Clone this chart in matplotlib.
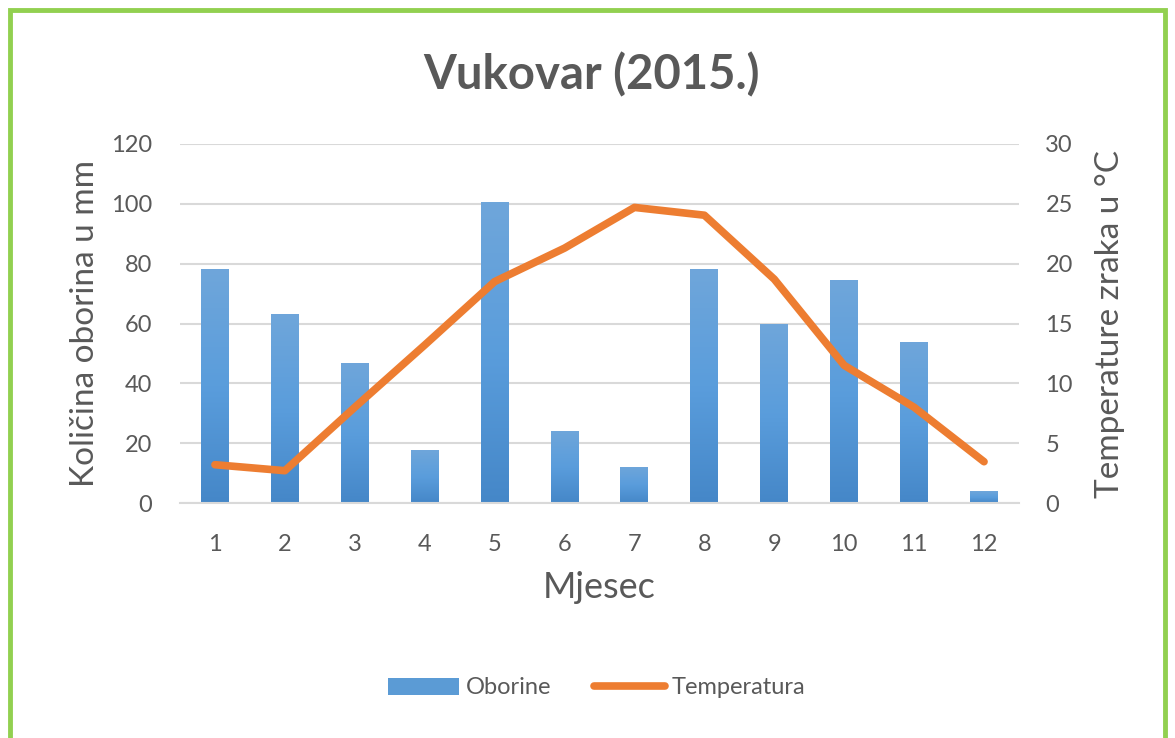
import numpy as np
import matplotlib.pyplot as plt
from matplotlib.patches import Rectangle, Patch
from matplotlib.lines import Line2D
from matplotlib.colors import LinearSegmentedColormap

# podaci očitani s grafa
mjeseci = [1, 2, 3, 4, 5, 6, 7, 8, 9, 10, 11, 12]
oborine = [78.2, 63.1, 46.8, 17.6, 100.5, 24.1, 12.1, 78.2, 59.8, 74.5, 53.9, 3.9]
temperatura = [3.2, 2.7, 8.0, 13.2, 18.5, 21.3, 24.7, 24.05, 18.7, 11.5, 8.0, 3.45]

plt.rcParams['font.family'] = ['Lato', 'DejaVu Sans']
siva = '#595959'
plava = '#5B9BD5'
narancasta = '#ED7D31'

fig = plt.figure(figsize=(11.75, 7.38), dpi=100)
fig.patch.set_facecolor('white')
ax = fig.add_axes([180 / 1175, 1 - 503 / 738, 839 / 1175, 359 / 738])
ax2 = ax.twinx()

x = np.array(mjeseci)
ax.set_xlim(0.5, 12.5)
ax.set_ylim(0, 120)
bars = ax.bar(x, oborine, width=0.4, color=plava, zorder=2)

# gradijent na stupcima (svjetlije gore, tamnije dolje)
cmap = LinearSegmentedColormap.from_list('plavi', ['#4587c8', '#5a9ddc', '#6fa6da'])
grad = np.linspace(0, 1, 256).reshape(-1, 1)
for b in bars:
    x0, w, h = b.get_x(), b.get_width(), b.get_height()
    im = ax.imshow(grad, extent=[x0, x0 + w, 0, h], origin='lower', aspect='auto',
                   cmap=cmap, zorder=2.1)
    im.set_clip_path(b)
ax.set_xlim(0.5, 12.5)
ax.set_ylim(0, 120)

ax2.plot(x, temperatura, color=narancasta, lw=5.5, solid_joinstyle='round',
         solid_capstyle='round', zorder=3)
ax2.set_ylim(0, 30)
ax.set_yticks(np.arange(0, 121, 20))
ax2.set_yticks(np.arange(0, 31, 5))
ax.set_xticks(x)
ax.yaxis.grid(True, color='#d9d9d9', lw=1.5, zorder=0)
ax.set_axisbelow(True)

for a in (ax, ax2):
    for s in a.spines.values():
        s.set_visible(False)
    a.tick_params(length=0, labelsize=17, colors=siva)
ax.spines['bottom'].set_visible(True)
ax.spines['bottom'].set_color('#d9d9d9')
ax.spines['bottom'].set_linewidth(1.5)
ax.tick_params(axis='y', pad=20)
ax.tick_params(axis='x', pad=22)
ax2.tick_params(axis='y', pad=19)

ax.set_ylabel('Količina oborina u mm', fontsize=24, color=siva, labelpad=8)
ax2.set_ylabel('Temperature zraka u °C', fontsize=24, color=siva, labelpad=16)
ax.set_xlabel('Mjesec', fontsize=26, color=siva, labelpad=12)

fig.text(0.503, 1 - 75 / 738, 'Vukovar (2015.)', ha='center', va='center',
         fontsize=34, fontweight='bold', color=siva)

handles = [Patch(facecolor=plava), Line2D([], [], color=narancasta, lw=5.5, solid_capstyle='round')]
fig.legend(handles, ['Oborine', 'Temperatura'], loc='center', ncol=2,
           bbox_to_anchor=(0.508, 1 - 688 / 738), frameon=False, fontsize=17,
           labelcolor=siva, handlelength=3.0, handletextpad=0.3, columnspacing=1.8)

# zeleni okvir
fig.patches.append(Rectangle((10 / 1175, -0.05), 1155 / 1175, 1.05 - 10 / 738,
                             transform=fig.transFigure, fill=False,
                             edgecolor='#92D050', lw=3.5))

fig.savefig('out.png', dpi=100)
